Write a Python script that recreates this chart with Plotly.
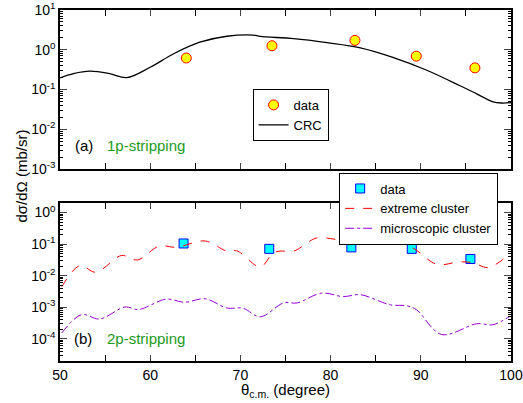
import plotly.graph_objects as go
import numpy as np

# Top panel (a): 1p-stripping
data_a_x = [64.0, 73.5, 82.7, 89.5, 96.0]
data_a_y = [0.62, 1.26, 1.72, 0.69, 0.35]
crc_x = [50.0, 51.5, 53.3, 55.5, 57.4, 60.0, 62.6, 65.5, 68.5, 71.4, 72.2, 75.9, 79.6, 83.3, 86.9, 90.6, 94.3, 96.2, 98.0, 99.0, 100.0]
crc_logy = [-0.707, -0.60, -0.54, -0.60, -0.70, -0.44, -0.10, 0.19, 0.34, 0.37, 0.336, 0.28, 0.18, 0.05, -0.19, -0.51, -0.90, -1.11, -1.31, -1.34, -1.33]

# Bottom panel (b): 2p-stripping
data_b_x = [63.7, 73.2, 82.3, 89.0, 95.5]
data_b_y = [0.105, 0.071, 0.079, 0.071, 0.034]
ext_x = [50.2, 52.2, 54.0, 56.8, 58.6, 61.0, 62.9, 66.1, 68.5, 69.6, 72.2, 73.6, 74.4, 75.9, 78.5, 81.0, 83.3, 85.8, 88.0, 89.5, 91.8, 94.3, 95.8, 97.5, 99.9]
ext_logy = [-2.35, -1.68, -1.89, -1.36, -1.50, -1.06, -1.10, -0.90, -1.22, -1.21, -1.72, -1.29, -1.22, -1.22, -0.80, -0.85, -0.69, -0.93, -0.96, -1.19, -1.64, -1.56, -1.59, -1.74, -1.29]
mic_x = [50.2, 52.4, 54.4, 57.2, 58.7, 61.8, 63.8, 66.1, 68.5, 70.3, 72.2, 74.8, 76.3, 79.0, 81.4, 83.3, 86.6, 88.4, 89.5, 92.3, 96.2, 98.0, 99.9]
mic_logy = [-3.81, -3.23, -3.37, -2.99, -3.07, -2.74, -2.84, -2.73, -3.02, -3.03, -3.30, -2.86, -2.86, -2.55, -2.66, -2.60, -2.92, -2.95, -3.07, -3.86, -3.52, -3.55, -3.28]

top_exps = [1, 0, -1, -2, -3]
bot_exps = [0, -1, -2, -3, -4]

crc_y = [10 ** v for v in crc_logy]
ext_y = [10 ** v for v in ext_logy]
mic_y = [10 ** v for v in mic_logy]

FONT = "Liberation Sans"
fig = go.Figure()

fig.add_trace(go.Scatter(x=data_a_x, y=data_a_y, mode="markers", name="data",
                         marker=dict(symbol="circle", size=10, color="#ffff00",
                                     line=dict(color="#ff0000", width=1)),
                         xaxis="x", yaxis="y", legend="legend"))
fig.add_trace(go.Scatter(x=crc_x, y=crc_y, mode="lines", name="CRC",
                         line=dict(color="black", width=1.3, shape="spline"),
                         xaxis="x", yaxis="y", legend="legend"))

fig.add_trace(go.Scatter(x=data_b_x, y=data_b_y, mode="markers", name="data",
                         marker=dict(symbol="square", size=9, color="#00ffff",
                                     line=dict(color="#0000ff", width=1)),
                         xaxis="x2", yaxis="y2", legend="legend2"))
fig.add_trace(go.Scatter(x=ext_x, y=ext_y, mode="lines", name="extreme cluster",
                         line=dict(color="#ff0000", width=1, dash="dash", shape="spline"),
                         xaxis="x2", yaxis="y2", legend="legend2"))
fig.add_trace(go.Scatter(x=mic_x, y=mic_y, mode="lines", name="microscopic cluster",
                         line=dict(color="#9400d3", width=1, dash="dashdot", shape="spline"),
                         xaxis="x2", yaxis="y2", legend="legend2"))


def minor_vals(lo, hi):
    return [m * 10 ** e for e in range(lo, hi) for m in range(2, 10)]


common_x = dict(range=[50, 100], tickmode="linear", dtick=10, tick0=50, ticks="inside", ticklen=6,
                showline=True, linecolor="black", linewidth=1.5, mirror="allticks",
                showgrid=False, zeroline=False, automargin=False, ticklabeloverflow="allow",
                minor=dict(tickmode="linear", dtick=5, tick0=50, ticks="inside", ticklen=6,
                           tickcolor="black", showgrid=False),
                tickfont=dict(size=14, color="black", family=FONT))


def ycfg(exps, rng, lo, hi):
    return dict(type="log", range=rng, tickmode="array",
                tickvals=[10.0 ** e for e in exps],
                ticktext=["10<sup>%d</sup>" % e for e in exps],
                ticks="inside", ticklen=7, ticklabeloverflow="allow",
                showline=True, linecolor="black", linewidth=1.5, mirror="allticks",
                showgrid=False, zeroline=False, automargin=False,
                minor=dict(tickmode="array", tickvals=minor_vals(lo, hi), ticks="inside",
                           ticklen=3.5, tickcolor="black", showgrid=False),
                tickfont=dict(size=14, color="black", family=FONT))


fig.update_layout(
    width=523, height=403,
    margin=dict(l=60, r=12, t=10, b=42, autoexpand=False),
    paper_bgcolor="white", plot_bgcolor="white",
    font=dict(family=FONT, color="black"),
    xaxis=dict(common_x, domain=[0, 1], anchor="y", showticklabels=False),
    yaxis=dict(ycfg(top_exps, [-3, 1], -3, 1), domain=[0.547, 1], anchor="x"),
    xaxis2=dict(common_x, domain=[0, 1], anchor="y2"),
    yaxis2=dict(ycfg(bot_exps, [np.log10(2e-5), np.log10(2)], -5, 1), domain=[0, 0.45], anchor="x2"),
    legend=dict(x=0.427, y=0.775, xanchor="left", yanchor="top", bgcolor="white",
                bordercolor="black", borderwidth=1, font=dict(size=13, family=FONT),
                tracegroupgap=0, itemwidth=30),
    legend2=dict(x=0.619, y=0.537, xanchor="left", yanchor="top", bgcolor="white",
                 bordercolor="black", borderwidth=1, font=dict(size=13, family=FONT),
                 tracegroupgap=0, itemwidth=30),
    showlegend=True,
)

# axis titles
fig.add_annotation(text="dσ/dΩ (mb/sr)", textangle=-90, x=(21.5 - 60) / 451, y=(361 - 176) / 351,
                   xref="paper", yref="paper", showarrow=False, xanchor="center", yanchor="middle",
                   font=dict(size=15, family=FONT, color="black"))
fig.add_annotation(text="θ<sub>c.m.</sub> (degree)", x=(285 - 60) / 451, y=(361 - 390) / 351,
                   xref="paper", yref="paper", showarrow=False, xanchor="center", yanchor="middle",
                   font=dict(size=15, family=FONT, color="black"))

for txt, px, py, col in [("(a)", 74, 145, "black"), ("1p-stripping", 106, 145, "#1a9a1a"),
                         ("(b)", 72.5, 338, "black"), ("2p-stripping", 106, 338, "#1a9a1a")]:
    fig.add_annotation(text=txt, x=(px - 60) / 451, y=(361 - py) / 351, xref="paper", yref="paper",
                       xanchor="left", yanchor="middle", showarrow=False, borderpad=0,
                       font=dict(size=15, color=col, family=FONT))

fig.write_html("out.html", config={"displayModeBar": False},
               post_script="document.body.style.margin='0';document.body.style.overflow='hidden';")
